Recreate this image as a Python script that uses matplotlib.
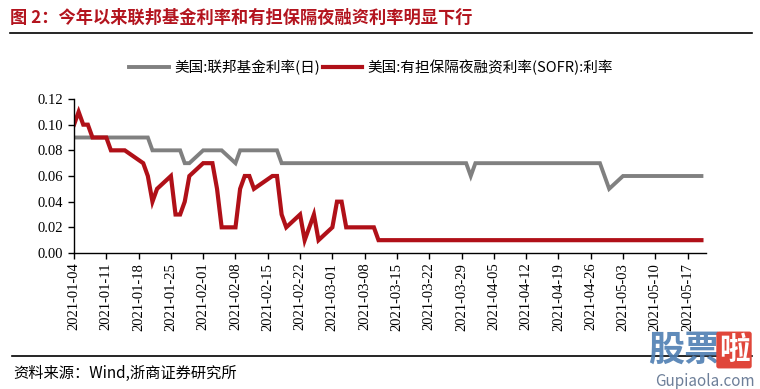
import pandas as pd
import matplotlib
matplotlib.use('Agg')
import matplotlib.pyplot as plt
import matplotlib.dates as mdates
from matplotlib.lines import Line2D

plt.rcParams['font.family'] = ['Noto Sans CJK SC', 'DejaVu Sans']

# US holidays with no fixing in the window
holidays = ['2021-01-18', '2021-02-15']
dates = pd.bdate_range('2021-01-04', '2021-05-20', freq='C', holidays=holidays)

# 美国:联邦基金利率(日), one row per week
fed_funds = [
    0.09, 0.09, 0.09, 0.09, 0.09,   # 01-04
    0.09, 0.09, 0.09, 0.09, 0.09,   # 01-11
    0.09, 0.09, 0.08, 0.08,         # 01-19
    0.08, 0.08, 0.08, 0.07, 0.07,   # 01-25
    0.08, 0.08, 0.08, 0.08, 0.08,   # 02-01
    0.07, 0.08, 0.08, 0.08, 0.08,   # 02-08
    0.08, 0.08, 0.07, 0.07,         # 02-16
    0.07, 0.07, 0.07, 0.07, 0.07,   # 02-22
    0.07, 0.07, 0.07, 0.07, 0.07,   # 03-01
    0.07, 0.07, 0.07, 0.07, 0.07,   # 03-08
    0.07, 0.07, 0.07, 0.07, 0.07,   # 03-15
    0.07, 0.07, 0.07, 0.07, 0.07,   # 03-22
    0.07, 0.07, 0.06, 0.07, 0.07,   # 03-29
    0.07, 0.07, 0.07, 0.07, 0.07,   # 04-05
    0.07, 0.07, 0.07, 0.07, 0.07,   # 04-12
    0.07, 0.07, 0.07, 0.07, 0.07,   # 04-19
    0.07, 0.07, 0.07, 0.06, 0.05,   # 04-26
    0.06, 0.06, 0.06, 0.06, 0.06,   # 05-03
    0.06, 0.06, 0.06, 0.06, 0.06,   # 05-10
    0.06, 0.06, 0.06, 0.06,         # 05-17
]

# 美国:有担保隔夜融资利率(SOFR):利率
sofr = [
    0.10, 0.11, 0.10, 0.10, 0.09,   # 01-04
    0.09, 0.08, 0.08, 0.08, 0.08,   # 01-11
    0.07, 0.06, 0.04, 0.05,         # 01-19
    0.06, 0.03, 0.03, 0.04, 0.06,   # 01-25
    0.07, 0.07, 0.07, 0.05, 0.02,   # 02-01
    0.02, 0.05, 0.06, 0.06, 0.05,   # 02-08
    0.06, 0.06, 0.03, 0.02,         # 02-16
    0.03, 0.01, 0.02, 0.03, 0.01,   # 02-22
    0.02, 0.04, 0.04, 0.02, 0.02,   # 03-01
    0.02, 0.02, 0.02, 0.01, 0.01,   # 03-08
    0.01, 0.01, 0.01, 0.01, 0.01,   # 03-15
    0.01, 0.01, 0.01, 0.01, 0.01,   # 03-22
    0.01, 0.01, 0.01, 0.01, 0.01,   # 03-29
    0.01, 0.01, 0.01, 0.01, 0.01,   # 04-05
    0.01, 0.01, 0.01, 0.01, 0.01,   # 04-12
    0.01, 0.01, 0.01, 0.01, 0.01,   # 04-19
    0.01, 0.01, 0.01, 0.01, 0.01,   # 04-26
    0.01, 0.01, 0.01, 0.01, 0.01,   # 05-03
    0.01, 0.01, 0.01, 0.01, 0.01,   # 05-10
    0.01, 0.01, 0.01, 0.01,         # 05-17
]

yticks = [0.00, 0.02, 0.04, 0.06, 0.08, 0.10, 0.12]

title = '图 2：今年以来联邦基金利率和有担保隔夜融资利率明显下行'
source = '资料来源：Wind,浙商证券研究所'
label_ff = '美国:联邦基金利率(日)'
label_sofr = '美国:有担保隔夜融资利率(SOFR):利率'

gray = '#808080'
red = '#b01018'
title_red = '#b3141e'

fig = plt.figure(figsize=(7.6, 3.89), dpi=100)
ax = fig.add_axes([0.0974, 0.3496, 0.8316, 0.3959])

ax.plot(dates, fed_funds, color=gray, linewidth=2.8, label=label_ff,
        solid_joinstyle='miter')
ax.plot(dates, sofr, color=red, linewidth=3.0, label=label_sofr,
        solid_joinstyle='miter')

ax.set_ylim(0, 0.12)
ax.set_yticks(yticks)
ax.set_yticklabels(['%.2f' % v for v in yticks])
ax.set_xlim(pd.Timestamp('2021-01-04'), pd.Timestamp('2021-05-21'))
ax.xaxis.set_major_locator(mdates.WeekdayLocator(byweekday=mdates.MO))
ax.xaxis.set_major_formatter(mdates.DateFormatter('%Y-%m-%d'))

for s in ['top', 'right']:
    ax.spines[s].set_visible(False)
for s in ['left', 'bottom']:
    ax.spines[s].set_linewidth(1.0)
    ax.spines[s].set_color('black')
ax.tick_params(axis='both', direction='out', length=4, width=1.0, colors='black')
ax.tick_params(axis='x', pad=3)
ax.tick_params(axis='y', pad=4)
for lab in ax.get_xticklabels():
    lab.set_rotation(90)
    lab.set_fontfamily('Liberation Serif')
    lab.set_fontsize(10.5)
for lab in ax.get_yticklabels():
    lab.set_fontfamily('Liberation Serif')
    lab.set_fontsize(10.5)

fig.legend(loc='center', bbox_to_anchor=(371 / 760, 1 - 67 / 389), ncol=2,
           frameon=False, fontsize=10.5, handlelength=2.7, handletextpad=0.35,
           columnspacing=0.2)

fig.text(10 / 760, 1 - 18 / 389, title, color=title_red, fontsize=12.4,
         fontweight='bold', ha='left', va='center')
fig.add_artist(Line2D([10 / 760, 752 / 760], [1 - 33 / 389, 1 - 33 / 389],
                      color='black', linewidth=1.2))
fig.add_artist(Line2D([12 / 760, 752 / 760], [1 - 356 / 389, 1 - 356 / 389],
                      color='black', linewidth=1.2))
fig.text(13 / 760, 1 - 373 / 389, source, color='black', fontsize=11,
         ha='left', va='center')

# site watermark in the corner
fig.text(684 / 760, 1 - 350 / 389, '股票', color='#4f7fb3', fontsize=26,
         fontweight='bold', ha='center', va='center', alpha=0.9)
fig.text(734 / 760, 1 - 350 / 389, '啦', color='white', fontsize=22,
         fontweight='bold', ha='center', va='center',
         bbox=dict(boxstyle='round,pad=0.08', fc='#e0463a', ec='none'))
fig.text(705 / 760, 1 - 381 / 389, 'Gupiaola.com', color='#6d7f99',
         fontsize=11, ha='center', va='center')

fig.savefig('out.png', dpi=100, facecolor='white')
